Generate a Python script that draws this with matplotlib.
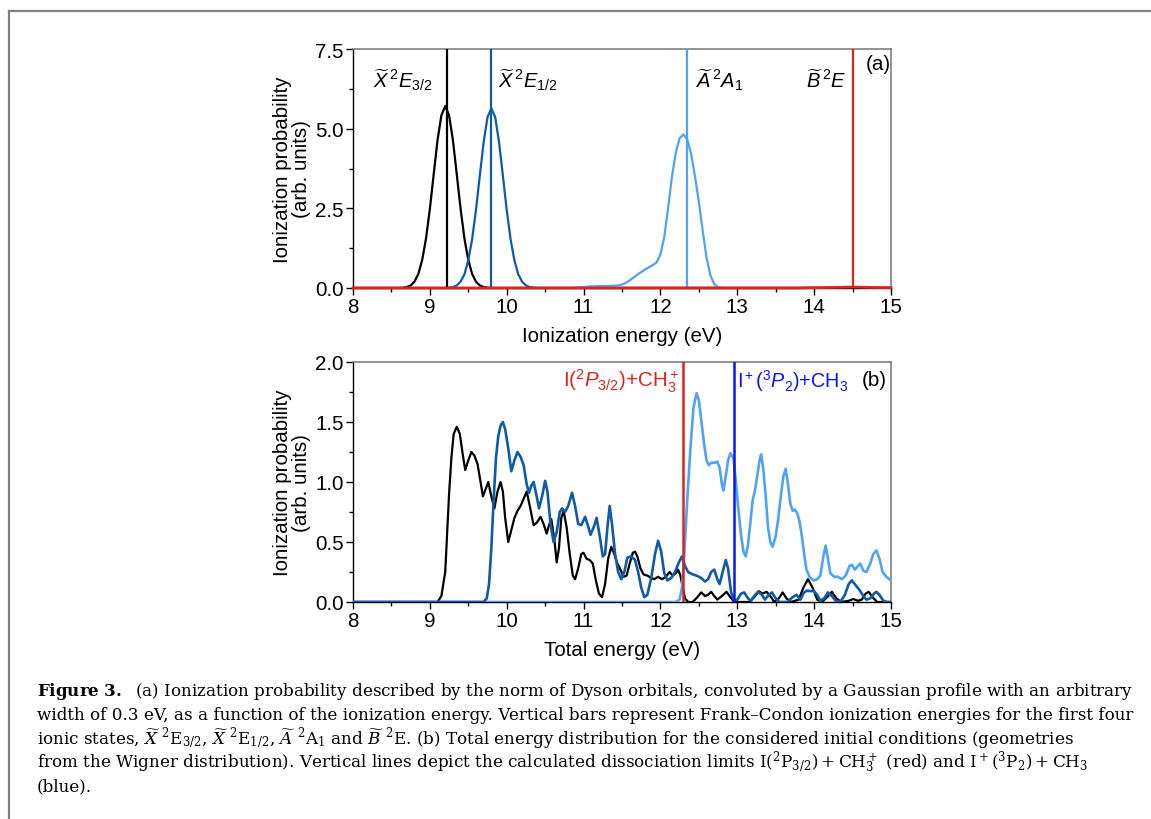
import matplotlib
matplotlib.use("Agg")
import matplotlib.pyplot as plt
from matplotlib.lines import Line2D
from matplotlib.ticker import MultipleLocator

plt.rcParams['font.family'] = ['Liberation Sans', 'DejaVu Sans']
plt.rcParams['mathtext.fontset'] = 'custom'
plt.rcParams['mathtext.rm'] = 'Liberation Sans'
plt.rcParams['mathtext.it'] = 'Liberation Sans:italic'
plt.rcParams['mathtext.bf'] = 'Liberation Sans:bold'

# ---------------- data: panel (a) ----------------
a_black_x = [8.0, 8.6, 8.65, 8.7, 8.75, 8.8, 8.85, 8.9, 8.95, 9.0, 9.05, 9.1, 9.15, 9.2,
             9.25, 9.3, 9.35, 9.4, 9.45, 9.5, 9.55, 9.6, 9.65, 9.7, 9.75, 9.8, 15.0]
a_black_y = [0.0, 0.0, 0.01, 0.03, 0.08, 0.20, 0.44, 0.88, 1.55, 2.48, 3.57, 4.64, 5.42, 5.71,
             5.42, 4.64, 3.57, 2.48, 1.55, 0.88, 0.44, 0.20, 0.08, 0.03, 0.01, 0.0, 0.0]

a_dblue_x = [8.0, 9.2, 9.25, 9.3, 9.35, 9.4, 9.45, 9.5, 9.55, 9.6, 9.65, 9.7, 9.75, 9.8,
             9.85, 9.9, 9.95, 10.0, 10.05, 10.1, 10.15, 10.2, 10.25, 10.3, 10.35, 10.4, 15.0]
a_dblue_y = [0.0, 0.0, 0.01, 0.03, 0.08, 0.20, 0.43, 0.87, 1.53, 2.45, 3.53, 4.58, 5.36, 5.64,
             5.36, 4.58, 3.53, 2.45, 1.53, 0.87, 0.43, 0.20, 0.08, 0.03, 0.01, 0.0, 0.0]

a_lblue_x = [8.0, 10.8, 10.9, 11.0, 11.1, 11.2, 11.3, 11.4, 11.45, 11.5, 11.55, 11.6, 11.65,
             11.7, 11.75, 11.8, 11.85, 11.9, 11.95, 12.0, 12.05, 12.1, 12.15, 12.2, 12.25,
             12.3, 12.35, 12.4, 12.45, 12.5, 12.55, 12.6, 12.65, 12.7, 12.75, 12.8, 15.0]
a_lblue_y = [0.0, 0.0, 0.01, 0.03, 0.05, 0.06, 0.06, 0.07, 0.08, 0.11, 0.16, 0.24, 0.33,
             0.42, 0.50, 0.58, 0.65, 0.72, 0.80, 1.05, 1.60, 2.50, 3.50, 4.25, 4.70,
             4.82, 4.65, 4.20, 3.50, 2.70, 1.80, 0.95, 0.40, 0.12, 0.03, 0.0, 0.0]

a_red_x = [8.0, 13.8, 14.0, 14.3, 14.5, 14.7, 15.0]
a_red_y = [0.0, 0.0, 0.01, 0.02, 0.03, 0.02, 0.01]

a_vlines = [9.22, 9.80, 12.34, 14.51]
a_labels = [r"$\widetilde{X}\,^2E_{3/2}$", r"$\widetilde{X}\,^2E_{1/2}$",
            r"$\widetilde{A}\,^2A_1$", r"$\widetilde{B}\,^2E$"]
a_label_x = [8.26, 9.89, 12.45, 13.89]

# ---------------- data: panel (b) ----------------
b_black_x = [8.0, 9.10, 9.15, 9.20, 9.25, 9.28, 9.31, 9.35, 9.39, 9.43, 9.46, 9.50, 9.54, 9.58,
             9.62, 9.66, 9.69, 9.72, 9.76, 9.80, 9.84, 9.88, 9.92, 9.95, 9.98, 10.02, 10.06,
             10.10, 10.14, 10.18, 10.22, 10.26, 10.30, 10.35, 10.39, 10.44, 10.48, 10.52, 10.55,
             10.58, 10.62, 10.65, 10.68, 10.71, 10.74, 10.78, 10.82, 10.86, 10.89, 10.93, 10.97,
             11.00, 11.04, 11.08, 11.12, 11.16, 11.20, 11.24, 11.28, 11.32, 11.36, 11.40, 11.44,
             11.48, 11.52, 11.56, 11.60, 11.64, 11.67, 11.70, 11.74, 11.78, 11.83, 11.88, 11.92,
             11.97, 12.02, 12.07, 12.12, 12.16, 12.20, 12.23, 12.26, 12.29, 12.32, 12.36, 12.42,
             12.48, 12.53, 12.58, 12.62, 12.66, 12.70, 12.74, 12.80, 12.86, 12.91, 12.96, 13.15,
             13.22, 13.28, 13.33, 13.38, 13.43, 13.48, 13.54, 13.59, 13.64, 13.70, 13.80, 13.86,
             13.92, 13.98, 14.04, 14.10, 14.17, 14.23, 14.29, 14.35, 14.45, 14.51, 14.57, 14.62,
             14.67, 14.71, 14.76, 14.82, 15.0]
b_black_y = [0.0, 0.0, 0.05, 0.25, 0.90, 1.20, 1.40, 1.46, 1.40, 1.22, 1.10, 1.18, 1.25, 1.22,
             1.15, 1.00, 0.88, 0.93, 1.00, 0.88, 0.78, 0.92, 1.00, 0.92, 0.70, 0.50, 0.60,
             0.70, 0.76, 0.80, 0.86, 0.92, 0.80, 0.64, 0.66, 0.71, 0.65, 0.57, 0.64,
             0.69, 0.52, 0.33, 0.45, 0.70, 0.76, 0.62, 0.40, 0.22, 0.19, 0.28, 0.40,
             0.41, 0.36, 0.35, 0.32, 0.18, 0.07, 0.04, 0.15, 0.36, 0.46, 0.40, 0.32,
             0.27, 0.21, 0.22, 0.32, 0.41, 0.42, 0.38, 0.28, 0.23, 0.22, 0.20, 0.19,
             0.21, 0.19, 0.21, 0.25, 0.22, 0.24, 0.27, 0.22, 0.12, 0.03, 0.0, 0.0,
             0.04, 0.08, 0.05, 0.06, 0.085, 0.05, 0.02, 0.05, 0.085, 0.04, 0.0, 0.0,
             0.04, 0.09, 0.07, 0.085, 0.05, 0.0, 0.03, 0.08, 0.03, 0.0, 0.02, 0.12,
             0.19, 0.12, 0.02, 0.0, 0.04, 0.085, 0.03, 0.0, 0.01, 0.025, 0.01, 0.02,
             0.07, 0.085, 0.04, 0.0, 0.0]

b_dblue_x = [8.0, 9.70, 9.74, 9.77, 9.80, 9.83, 9.86, 9.89, 9.92, 9.95, 9.98, 10.02, 10.06,
             10.10, 10.14, 10.18, 10.22, 10.26, 10.29, 10.32, 10.35, 10.39, 10.42, 10.46, 10.50,
             10.53, 10.57, 10.61, 10.65, 10.69, 10.72, 10.76, 10.80, 10.85, 10.89, 10.93, 10.97,
             11.02, 11.06, 11.09, 11.13, 11.17, 11.21, 11.25, 11.28, 11.31, 11.34, 11.37, 11.41,
             11.45, 11.49, 11.53, 11.57, 11.62, 11.67, 11.71, 11.75, 11.79, 11.83, 11.88, 11.93,
             11.97, 12.01, 12.05, 12.09, 12.14, 12.19, 12.24, 12.28, 12.32, 12.36, 12.42, 12.47,
             12.53, 12.58, 12.62, 12.66, 12.70, 12.74, 12.77, 12.81, 12.85, 12.88, 12.92, 12.96,
             13.00, 13.05, 13.09, 13.14, 13.18, 13.22, 13.27, 13.32, 13.36, 13.41, 13.45, 13.50,
             13.55, 13.65, 13.72, 13.77, 13.82, 13.87, 13.91, 13.95, 13.99, 14.04, 14.08, 14.13,
             14.18, 14.23, 14.28, 14.34, 14.40, 14.45, 14.49, 14.54, 14.59, 14.64, 14.68, 14.73,
             14.78, 14.81, 14.85, 14.90, 14.95, 15.0]
b_dblue_y = [0.0, 0.0, 0.03, 0.15, 0.45, 0.85, 1.20, 1.38, 1.47, 1.50, 1.44, 1.28, 1.09,
             1.18, 1.25, 1.21, 1.14, 0.98, 0.91, 0.97, 1.00, 0.88, 0.78, 0.88, 1.01,
             0.92, 0.65, 0.50, 0.58, 0.75, 0.78, 0.75, 0.80, 0.91, 0.80, 0.65, 0.64,
             0.71, 0.63, 0.56, 0.62, 0.70, 0.55, 0.38, 0.40, 0.62, 0.80, 0.65, 0.40,
             0.25, 0.19, 0.25, 0.37, 0.38, 0.35, 0.25, 0.12, 0.04, 0.06, 0.20, 0.40,
             0.51, 0.42, 0.24, 0.18, 0.20, 0.25, 0.33, 0.38, 0.30, 0.25, 0.23, 0.22,
             0.20, 0.17, 0.19, 0.25, 0.27, 0.19, 0.15, 0.25, 0.35, 0.28, 0.08, 0.01,
             0.02, 0.07, 0.08, 0.03, 0.01, 0.05, 0.085, 0.06, 0.02, 0.06, 0.08, 0.03,
             0.0, 0.0, 0.04, 0.06, 0.02, 0.08, 0.095, 0.09, 0.095, 0.06, 0.01, 0.03,
             0.08, 0.05, 0.01, 0.0, 0.06, 0.15, 0.18, 0.14, 0.10, 0.05, 0.02, 0.03,
             0.07, 0.085, 0.06, 0.01, 0.0, 0.0]

b_lblue_x = [8.0, 12.20, 12.25, 12.28, 12.31, 12.35, 12.39, 12.43, 12.47, 12.50, 12.53, 12.57,
             12.60, 12.63, 12.66, 12.70, 12.74, 12.77, 12.80, 12.82, 12.85, 12.88, 12.91, 12.95,
             12.98, 13.01, 13.05, 13.08, 13.11, 13.14, 13.17, 13.20, 13.23, 13.26, 13.29, 13.31,
             13.34, 13.37, 13.40, 13.43, 13.46, 13.50, 13.53, 13.56, 13.60, 13.63, 13.66, 13.69,
             13.72, 13.75, 13.78, 13.81, 13.84, 13.87, 13.90, 13.94, 13.99, 14.04, 14.08, 14.12,
             14.15, 14.18, 14.21, 14.26, 14.31, 14.36, 14.41, 14.46, 14.49, 14.53, 14.57, 14.60,
             14.64, 14.68, 14.73, 14.77, 14.81, 14.85, 14.89, 14.94, 15.0]
b_lblue_y = [0.0, 0.0, 0.02, 0.12, 0.39, 0.86, 1.28, 1.62, 1.74, 1.68, 1.52, 1.31,
             1.18, 1.14, 1.16, 1.16, 1.17, 1.12, 0.98, 0.93, 1.05, 1.18, 1.24, 1.20,
             1.02, 0.80, 0.55, 0.42, 0.38, 0.48, 0.66, 0.85, 0.93, 1.05, 1.18, 1.23,
             1.10, 0.88, 0.62, 0.50, 0.46, 0.55, 0.68, 0.85, 1.05, 1.11, 0.98, 0.82,
             0.76, 0.77, 0.74, 0.67, 0.55, 0.40, 0.27, 0.21, 0.18, 0.19, 0.22, 0.38,
             0.47, 0.36, 0.24, 0.21, 0.21, 0.19, 0.22, 0.30, 0.31, 0.27, 0.30, 0.32,
             0.26, 0.25, 0.32, 0.40, 0.43, 0.36, 0.25, 0.21, 0.18]

b_vlines = [12.30, 12.96]
b_labels = [r"I($^2P_{3/2}$)+CH$_3^+$", r"I$^+$($^3P_2$)+CH$_3$"]

# ---------------- styling ----------------
C_BLACK = "#000000"
C_DBLUE = "#0e5aab"
C_LBLUE = "#4fa3f7"
C_RED = "#e0221e"
C_BLUE = "#0a14f0"
GREY = "#808080"
FS = 14.8

fig = plt.figure(figsize=(11.51, 8.20), dpi=100)
W, H = 1151.0, 820.0


def px_axes(l, t, r, b):
    return fig.add_axes([l / W, 1 - b / H, (r - l) / W, (b - t) / H])


def style(ax, ymax, ymaj):
    ax.set_xlim(8, 15)
    ax.set_ylim(0, ymax)
    ax.xaxis.set_major_locator(MultipleLocator(1))
    ax.xaxis.set_minor_locator(MultipleLocator(0.5))
    ax.yaxis.set_major_locator(MultipleLocator(ymaj))
    ax.yaxis.set_minor_locator(MultipleLocator(ymaj / 2))
    ax.tick_params(which='both', direction='out', top=False, right=False,
                   labelsize=FS, width=1.0, color='black')
    ax.tick_params(which='major', length=5, pad=1.5)
    ax.tick_params(which='minor', length=3)
    for s in ('left', 'bottom'):
        ax.spines[s].set_color('black')
        ax.spines[s].set_linewidth(1.0)
    for s in ('top', 'right'):
        ax.spines[s].set_color(GREY)
        ax.spines[s].set_linewidth(1.2)
    ax.set_ylabel("Ionization probability\n(arb. units)", fontsize=FS, linespacing=1.0,
                  labelpad=3)


# panel (a)
axa = px_axes(353, 50, 891, 289)
style(axa, 7.5, 2.5)
LW = 1.6
axa.plot(a_black_x, a_black_y, color=C_BLACK, lw=LW, zorder=3)
axa.plot(a_dblue_x, a_dblue_y, color=C_DBLUE, lw=LW, zorder=3)
axa.plot(a_lblue_x, a_lblue_y, color=C_LBLUE, lw=LW, zorder=3)
axa.plot(a_red_x, a_red_y, color=C_RED, lw=2.0, zorder=5, clip_on=False)
for xv, c in zip(a_vlines, [C_BLACK, C_DBLUE, C_LBLUE, C_RED]):
    axa.axvline(xv, color=c, lw=1.6, zorder=4)
for xl, lab in zip(a_label_x, a_labels):
    axa.text(xl, 6.55, lab, fontsize=14.5, va='center', ha='left')
axa.text(0.953, 0.94, "(a)", transform=axa.transAxes, fontsize=FS, va='center', ha='left')
axa.set_xlabel("Ionization energy (eV)", fontsize=FS, labelpad=7.5)

# panel (b)
axb = px_axes(353, 363, 891, 603)
style(axb, 2.0, 0.5)
axb.plot(b_black_x, b_black_y, color=C_BLACK, lw=LW, zorder=3)
axb.plot(b_lblue_x, b_lblue_y, color=C_LBLUE, lw=LW + 0.3, zorder=3.2)
axb.plot(b_dblue_x, b_dblue_y, color=C_DBLUE, lw=LW + 0.3, zorder=3.4)
axb.axvline(b_vlines[0], color=C_RED, lw=1.8, zorder=4)
axb.axvline(b_vlines[1], color=C_BLUE, lw=1.8, zorder=4)
axb.text(0.607, 0.925, b_labels[0], transform=axb.transAxes, color=C_RED,
         fontsize=FS, ha='right', va='center')
axb.text(0.714, 0.925, b_labels[1], transform=axb.transAxes, color=C_BLUE,
         fontsize=14.2, ha='left', va='center')
axb.text(0.946, 0.925, "(b)", transform=axb.transAxes, fontsize=FS, va='center', ha='left')
axb.set_xlabel("Total energy (eV)", fontsize=FS, labelpad=7.5)

# frame around the figure
fig.add_artist(Line2D([8.5 / W, 8.5 / W], [0, 1 - 11.7 / H], transform=fig.transFigure,
                      color=GREY, lw=1.6))
fig.add_artist(Line2D([8.5 / W, 1.0], [1 - 11.7 / H, 1 - 11.7 / H], transform=fig.transFigure,
                      color=GREY, lw=1.6))

# caption
cap_lines = [
    r"$\mathbf{Figure\ 3.}$  (a) Ionization probability described by the norm of Dyson orbitals, convoluted by a Gaussian profile with an arbitrary",
    r"width of 0.3 eV, as a function of the ionization energy. Vertical bars represent Frank–Condon ionization energies for the first four",
    r"ionic states, $\widetilde{X}\ ^2\mathrm{E}_{3/2}$, $\widetilde{X}\ ^2\mathrm{E}_{1/2}$, $\widetilde{A}\ ^2\mathrm{A}_1$ and $\widetilde{B}\ ^2\mathrm{E}$. (b) Total energy distribution for the considered initial conditions (geometries",
    r"from the Wigner distribution). Vertical lines depict the calculated dissociation limits $\mathrm{I}(^2\mathrm{P}_{3/2}) + \mathrm{CH}_3^+$ (red) and $\mathrm{I}^+(^3\mathrm{P}_2) + \mathrm{CH}_3$",
    r"(blue).",
]
cap_y = [692, 715.5, 739, 763, 786.5]
cap_texts = []
for txt, yy in zip(cap_lines, cap_y):
    t = fig.text(37 / W, 1 - yy / H, txt, fontsize=12.0, family='DejaVu Serif',
                 math_fontfamily='dejavuserif', ha='left', va='center')
    cap_texts.append(t)

# fit caption font size so that the first line spans the same width as the reference
renderer = fig.canvas.get_renderer()
w0 = cap_texts[0].get_window_extent(renderer).width
target = 1127 - 37
fs_new = 12.0 * target / w0
for t in cap_texts:
    t.set_fontsize(fs_new)

fig.savefig("out.png", dpi=100)
